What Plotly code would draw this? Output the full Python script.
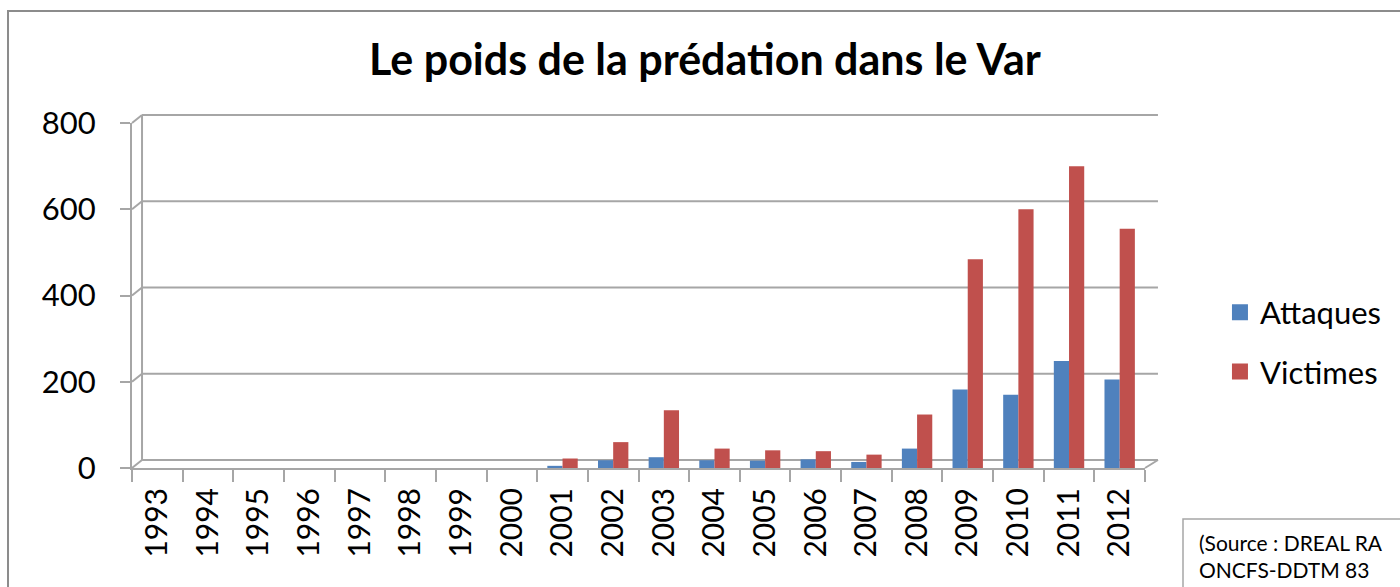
import plotly.graph_objects as go

years = [str(y) for y in range(1993, 2013)]
attaques = [0, 0, 0, 0, 0, 0, 0, 0, 5, 18, 25, 18, 17, 20, 14, 45, 182, 170, 248, 205]
victimes = [0, 0, 0, 0, 0, 0, 0, 0, 22, 60, 134, 45, 41, 39, 31, 124, 484, 600, 700, 555]
y_ticks = [0, 200, 400, 600, 800]
Y_MAX = 800

BLUE = "#4F81BD"
RED = "#C0504D"
GRID = "#A6A6A6"
FONT = "Lato"

fig = go.Figure()
fig.add_trace(go.Bar(x=years, y=attaques, name="Attaques", marker=dict(color=BLUE, line=dict(width=0)),
                     showlegend=False))
fig.add_trace(go.Bar(x=years, y=victimes, name="Victimes", marker=dict(color=RED, line=dict(width=0)),
                     showlegend=False))
# legend entries with larger square swatches
for name, col, grp in [("Attaques", BLUE, "a"), ("Victimes", RED, "v")]:
    fig.add_trace(go.Scatter(x=[None], y=[None], mode="markers", name=name, legendgroup=grp,
                             marker=dict(symbol="square", size=19, color=col)))

shapes = []
# pseudo-3D back wall gridlines
dx = 0.0099
dy = 8 / 345
for v in y_ticks:
    yp = v / Y_MAX
    shapes.append(dict(type="line", xref="paper", yref="paper", x0=0, y0=yp, x1=dx, y1=yp + dy,
                       line=dict(color=GRID, width=2), layer="below"))
    shapes.append(dict(type="line", xref="paper", yref="paper", x0=dx, y0=yp + dy, x1=1.0128, y1=yp + dy,
                       line=dict(color=GRID, width=2), layer="below"))
shapes.append(dict(type="line", xref="paper", yref="paper", x0=dx, y0=dy, x1=dx, y1=1 + dy,
                   line=dict(color=GRID, width=2), layer="below"))
shapes.append(dict(type="line", xref="paper", yref="paper", x0=1.0, y0=0, x1=1.0128, y1=dy,
                   line=dict(color=GRID, width=2), layer="below"))
# outer chart border
shapes.append(dict(type="rect", xref="paper", yref="paper", x0=-0.1224, y0=-0.5, x1=1.4, y1=1.3246,
                   line=dict(color="#8C8C8C", width=2), fillcolor="rgba(0,0,0,0)", layer="below"))
# source box
shapes.append(dict(type="rect", xref="paper", yref="paper", x0=(1183 - 132) / 1013, y0=-0.5,
                   x1=1.4, y1=(468 - 519) / 345,
                   line=dict(color="#A6A6A6", width=1.5), fillcolor="white"))

fig.update_layout(
    width=1400, height=587,
    margin=dict(l=132, r=255, t=123, b=119),
    paper_bgcolor="white", plot_bgcolor="white",
    title=dict(text="<b>Le poids de la prédation dans le Var</b>", x=705 / 1400, xanchor="center",
               y=1 - 60 / 587, yanchor="middle", font=dict(family=FONT, size=43, color="black")),
    font=dict(family=FONT, color="black"),
    barmode="group", bargap=0.4, bargroupgap=0,
    showlegend=True,
    legend=dict(x=1.074, y=0.365, xanchor="left", yanchor="middle", font=dict(size=31, family=FONT),
                tracegroupgap=16, traceorder="grouped", bgcolor="rgba(0,0,0,0)", itemsizing="trace"),
    xaxis=dict(type="category", tickangle=-90, tickfont=dict(size=30, family=FONT), ticks="outside",
               tickson="boundaries", ticklen=12, tickcolor=GRID, tickwidth=2, showline=True,
               linecolor=GRID, linewidth=2, showgrid=False, ticklabelstandoff=6),
    yaxis=dict(range=[0, Y_MAX], tickvals=y_ticks, tickfont=dict(size=31, family=FONT), ticks="outside",
               ticklen=10, tickcolor=GRID, tickwidth=2, showline=True, linecolor=GRID, linewidth=2,
               showgrid=False, zeroline=False, ticklabelstandoff=18),
    shapes=shapes,
    annotations=[dict(text="(Source : DREAL RA<br>ONCFS-DDTM 83", xref="paper", yref="paper",
                      x=(1197 - 132) / 1013, y=(468 - 528) / 345, xanchor="left", yanchor="top",
                      align="left", showarrow=False, font=dict(size=21, family=FONT, color="black"))],
)

fig.write_html("out.html", config={"displayModeBar": False},
               post_script="document.body.style.margin='0';")
